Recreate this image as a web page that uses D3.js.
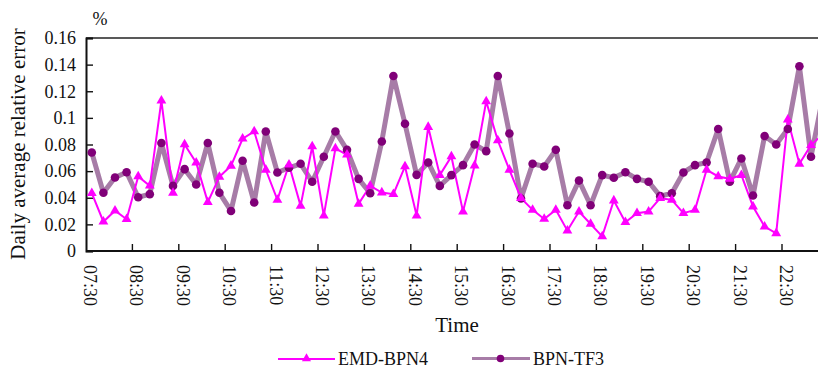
<!DOCTYPE html>
<html>
<head>
<meta charset="utf-8">
<script src="https://cdn.jsdelivr.net/npm/d3@7"></script>
<style>
  html, body { margin: 0; padding: 0; background: #fff; }
  svg { display: block; }
  text { font-family: "Liberation Serif", "Times New Roman", serif; fill: #111; }
</style>
</head>
<body>
<svg id="chart" width="818" height="368"></svg>
<script>
// ---- data ----
const hourLabels = ["07:30","08:30","09:30","10:30","11:30","12:30","13:30","14:30",
                    "15:30","16:30","17:30","18:30","19:30","20:30","21:30","22:30"];
const quarterSuffix = ["a","b","c","d"]; // 4 samples per hour (15-min steps)
const yTicks = [0, 0.02, 0.04, 0.06, 0.08, 0.1, 0.12, 0.14, 0.16];
const yTickLabels = ["0","0.02","0.04","0.06","0.08","0.1","0.12","0.14","0.16"];

const emdBpn4 = [
  0.0434, 0.022, 0.0303, 0.0239, 0.056, 0.049, 0.113, 0.0437,
  0.080, 0.0663, 0.0367, 0.0557, 0.064, 0.0843, 0.0898, 0.061,
  0.0384, 0.0648, 0.0339, 0.0785, 0.0266, 0.077, 0.0723, 0.0354,
  0.049, 0.0439, 0.0427, 0.0635, 0.0266, 0.0931, 0.057, 0.071,
  0.0296, 0.0642, 0.1124, 0.083, 0.061, 0.0397, 0.0309, 0.0241,
  0.0309, 0.0153, 0.0296, 0.0203, 0.011, 0.0379, 0.0216, 0.0284,
  0.0296, 0.0397, 0.0384, 0.0284, 0.0309, 0.061, 0.056, 0.0542,
  0.057, 0.0334, 0.0183, 0.0133, 0.0986, 0.0655, 0.0795, 0.0875
];
const bpnTf3 = [
  0.074, 0.0437, 0.0552, 0.0592, 0.0404, 0.0427, 0.0811, 0.0489,
  0.0615, 0.0499, 0.0811, 0.0437, 0.0301, 0.0678, 0.0364, 0.0898,
  0.059, 0.0625, 0.0655, 0.052, 0.0708, 0.0898, 0.076, 0.0542,
  0.0434, 0.0823, 0.1315, 0.0956, 0.0572, 0.0665, 0.0489, 0.057,
  0.0645, 0.080, 0.075, 0.1315, 0.0883, 0.0394, 0.0655, 0.0635,
  0.076, 0.0344, 0.0529, 0.0344, 0.057, 0.055, 0.0592, 0.0542,
  0.052, 0.0412, 0.0434, 0.059, 0.0645, 0.0665, 0.0916, 0.052,
  0.0695, 0.0417, 0.0864, 0.080, 0.0916, 0.1388, 0.0708, 0.1148
];
const seriesNames = ["EMD-BPN4", "BPN-TF3"];

// ---- layout ----
const svg = d3.select("#chart");
const plotLeft = 86, plotTop = 38, plotBottom = 251;
const step = 11.6;
const categories = [];
hourLabels.forEach(h => quarterSuffix.forEach(q => categories.push(h + q)));

const x = d3.scaleBand().domain(categories).range([plotLeft, plotLeft + step * categories.length]).padding(0);
const y = d3.scaleLinear().domain([0, 0.16]).range([plotBottom, plotTop]);
const cx = i => x(categories[i]) + x.bandwidth() / 2;

// frame: top border
svg.append("line").attr("x1", plotLeft).attr("x2", 818).attr("y1", plotTop).attr("y2", plotTop)
  .attr("stroke", "#222").attr("stroke-width", 1.6);

// y axis
const yAxis = d3.axisLeft(y).tickValues(yTicks).tickSize(-7).tickPadding(10)
  .tickFormat((d, i) => yTickLabels[i]);
const gy = svg.append("g").attr("transform", `translate(${plotLeft},0)`).call(yAxis);
gy.select(".domain").attr("stroke", "#111").attr("stroke-width", 2);
gy.selectAll(".tick line").attr("stroke", "#111").attr("stroke-width", 1.4);
gy.selectAll(".tick text").style("font-size", "18px").attr("fill", "#111")
  .style("font-family", '"Liberation Serif", serif');

// x axis (ticks at hour boundaries, between categories)
const tickCats = categories.filter((c, i) => i % 4 === 0);
const gx = svg.append("g").attr("class", "xaxis");
gx.append("line").attr("x1", plotLeft).attr("x2", 818).attr("y1", plotBottom).attr("y2", plotBottom)
  .attr("stroke", "#111").attr("stroke-width", 2);
tickCats.forEach((c, k) => {
  const tx = x(c);
  if (k > 0) {
    gx.append("line").attr("x1", tx).attr("x2", tx).attr("y1", plotBottom).attr("y2", plotBottom - 7)
      .attr("stroke", "#111").attr("stroke-width", 1.4);
  }
  gx.append("text")
    .attr("transform", `translate(${tx - 2},265) rotate(90)`)
    .attr("text-anchor", "start")
    .style("font-size", "18px")
    .text(hourLabels[k]);
});

// series
const lineGen = d3.line().x((d, i) => cx(i)).y(d => y(d));

svg.append("path").datum(bpnTf3).attr("d", lineGen)
  .attr("fill", "none").attr("stroke", "#a77ca7").attr("stroke-width", 5)
  .attr("stroke-linejoin", "round");

svg.append("path").datum(emdBpn4).attr("d", lineGen)
  .attr("fill", "none").attr("stroke", "#ff00ff").attr("stroke-width", 2);

svg.append("g").selectAll("circle").data(bpnTf3).join("circle")
  .attr("cx", (d, i) => cx(i)).attr("cy", d => y(d)).attr("r", 4.3)
  .attr("fill", "#800078");

const tri = d3.symbol().type(d3.symbolTriangle).size(42);
svg.append("g").selectAll("path").data(emdBpn4).join("path")
  .attr("d", tri)
  .attr("transform", (d, i) => `translate(${cx(i)},${y(d)})`)
  .attr("fill", "#ff00ff");

// axis titles
svg.append("text").attr("transform", "translate(25,144) rotate(-90)")
  .attr("text-anchor", "middle").style("font-size", "21px")
  .text("Daily average relative error");
svg.append("text").attr("x", 100).attr("y", 25).attr("text-anchor", "middle")
  .style("font-size", "18px").text("%");
svg.append("text").attr("x", 457).attr("y", 332).attr("text-anchor", "middle")
  .style("font-size", "21px").text("Time");

// legend
const lg = svg.append("g");
lg.append("line").attr("x1", 278).attr("x2", 335).attr("y1", 359).attr("y2", 359)
  .attr("stroke", "#ff00ff").attr("stroke-width", 2);
lg.append("path").attr("d", d3.symbol().type(d3.symbolTriangle).size(36))
  .attr("transform", "translate(306.5,358.5)").attr("fill", "#ff00ff");
lg.append("text").attr("x", 338).attr("y", 365).style("font-size", "18px").text(seriesNames[0]);
lg.append("line").attr("x1", 472).attr("x2", 530).attr("y1", 358.5).attr("y2", 358.5)
  .attr("stroke", "#a77ca7").attr("stroke-width", 3);
lg.append("circle").attr("cx", 500.5).attr("cy", 358.5).attr("r", 3.8).attr("fill", "#800078");
lg.append("text").attr("x", 533).attr("y", 365).style("font-size", "18px").text(seriesNames[1]);
</script>
</body>
</html>
